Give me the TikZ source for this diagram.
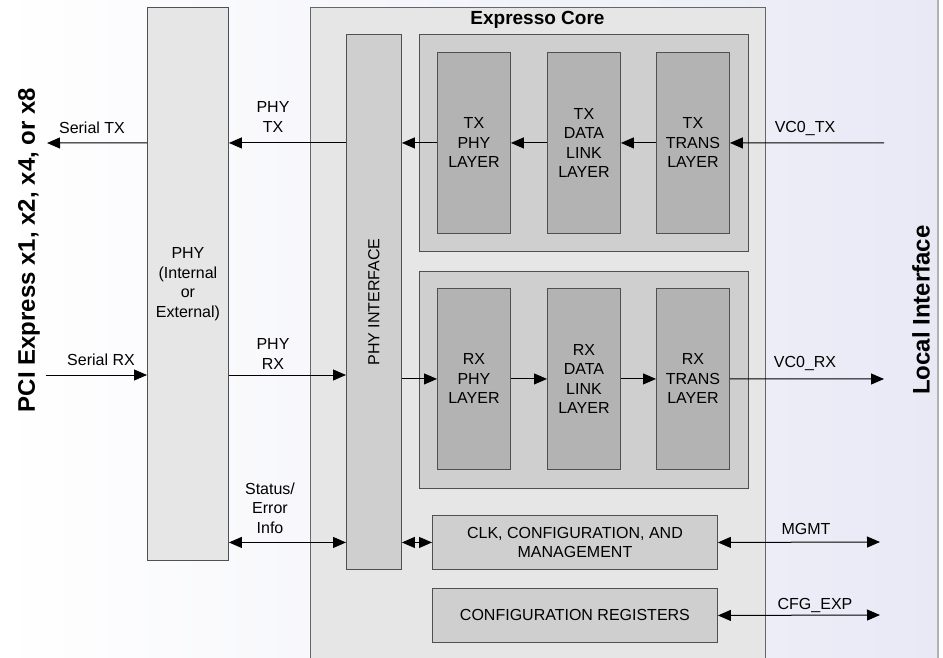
\documentclass[tikz,border=0pt]{standalone}
\usepackage{fontspec}
\setmainfont{Liberation Sans}
\usetikzlibrary{arrows.meta}

\definecolor{bgright}{RGB}{232,233,245}
\definecolor{corefill}{RGB}{230,230,230}
\definecolor{grpfill}{RGB}{207,207,207}
\definecolor{layerfill}{RGB}{179,179,179}
\definecolor{edgegrey}{RGB}{80,80,80}

\tikzset{
  box/.style={draw=edgegrey, line width=0.9pt, anchor=north west, inner sep=0pt, align=center, font=\fontsize{16}{19.5}\selectfont},
  phybox/.style={box, fill=corefill},
  corebox/.style={box, draw=black!60, fill=corefill},
  grpbox/.style={box, fill=grpfill},
  layerbox/.style={box, fill=layerfill, minimum width=73pt, minimum height=181pt},
  lbl/.style={inner sep=0.75pt, align=center, font=\fontsize{16}{19.5}\selectfont},
  biglbl/.style={inner sep=0.75pt, rotate=90, font=\fontsize{24}{28}\selectfont\bfseries},
  arr/.style={line width=1pt, -{Triangle[length=13pt,width=11pt]}},
  dblarr/.style={line width=1pt, {Triangle[length=13pt,width=11pt]}-{Triangle[length=13pt,width=11pt]}}
}

\begin{document}
\begin{tikzpicture}[x=1pt,y=1pt,yscale=-1,xscale=1]
\useasboundingbox (0,0) rectangle (943,658);

%Shape: Background
\fill [left color=white, right color=bgright] (0,0) rectangle (938,658);
\draw [black!30, line width=1.5pt] (938,0) -- (938,658);

%Shape: Rectangle [Expresso Core]
\node [corebox, minimum width=455pt, minimum height=660pt] (core) at (310,7) {};
% Text Node
\node [inner sep=0.75pt, font=\fontsize{19}{22}\selectfont\bfseries] (title) at (537.5,20) {Expresso Core};

%Shape: Rectangle [PHY]
\node [phybox, minimum width=81pt, minimum height=553pt] (phy) at (147,7) {PHY\\(Internal\\or\\External)};

%Shape: Rectangle [PHY INTERFACE]
\node [grpbox, minimum width=55pt, minimum height=535pt] (phyif) at (346,34) {};
% Text Node
\node [lbl, rotate=90] (phyiftxt) at (phyif.center) {PHY INTERFACE};

%Shape: Rectangle [TX group]
\node [grpbox, minimum width=329pt, minimum height=217pt] (txgrp) at (419,34) {};
\node [layerbox] (txphy) at (437,52) {TX\\PHY\\LAYER};
\node [layerbox] (txdl) at (547,52) {TX\\DATA\\LINK\\LAYER};
\node [layerbox] (txtrans) at (656,52) {TX\\TRANS\\LAYER};

%Shape: Rectangle [RX group]
\node [grpbox, minimum width=329pt, minimum height=217pt] (rxgrp) at (419,271) {};
\node [layerbox] (rxphy) at (437,288) {RX\\PHY\\LAYER};
\node [layerbox] (rxdl) at (547,288) {RX\\DATA\\LINK\\LAYER};
\node [layerbox] (rxtrans) at (656,288) {RX\\TRANS\\LAYER};

%Shape: Rectangle [CLK / CFG]
\node [grpbox, minimum width=285pt, minimum height=54pt] (clk) at (432,515) {CLK, CONFIGURATION, AND\\MANAGEMENT};
\node [grpbox, minimum width=285pt, minimum height=54pt] (cfg) at (432,588) {CONFIGURATION REGISTERS};

% free ends
\coordinate (sertx) at (47,143);
\coordinate (serrx) at (46,375);
\coordinate (vctx) at (884,143);
\coordinate (vcrx) at (884,379);
\coordinate (mgmt) at (880,542);
\coordinate (cfgexp) at (880,615);

% TX path
\draw [arr] (vctx) -- (txtrans.east);
\draw [arr] (txtrans.west) -- (txdl.east);
\draw [arr] (txdl.west) -- (txphy.east);
\draw [arr] (txphy.west) -- (phyif.east |- txphy.west);
\draw [arr] (phyif.west |- txphy.west) -- (phy.east |- txphy.west);
\draw [arr] (phy.west |- txphy.west) -- (sertx);

% RX path
\draw [arr] (serrx) -- (phy.west |- serrx);
\draw [arr] (phy.east |- serrx) -- (phyif.west |- serrx);
\draw [arr] (phyif.east |- rxphy.west) -- (rxphy.west);
\draw [arr] (rxphy.east) -- (rxdl.west);
\draw [arr] (rxdl.east) -- (rxtrans.west);
\draw [arr] (rxtrans.east) -- (vcrx);

% status and management
\draw [dblarr] (phy.east |- clk.west) -- (phyif.west |- clk.west);
\draw [dblarr] (phyif.east |- clk.west) -- (clk.west);
\draw [dblarr] (clk.east) -- (mgmt);
\draw [dblarr] (cfg.east) -- (cfgexp);

% Text Node
\node [lbl] (sertxlbl) at (92,128) {Serial TX};
% Text Node
\node [lbl] (serrxlbl) at (101,360) {Serial RX};
% Text Node
\node [lbl] (phytxlbl) at (273,117) {PHY\\TX};
% Text Node
\node [lbl] (phyrxlbl) at (273,354) {PHY\\RX};
% Text Node
\node [lbl] (statuslbl) at (270,508) {Status/\\Error\\Info};
% Text Node
\node [lbl] (vctxlbl) at (805,129) {VC0\_TX};
% Text Node
\node [lbl] (vcrxlbl) at (805,364) {VC0\_RX};
% Text Node
\node [lbl] (mgmtlbl) at (806,529) {MGMT};
% Text Node
\node [lbl] (cfgexplbl) at (815,605) {CFG\_EXP};
% Text Node
\node [biglbl] (pcie) at (29,250) {PCI Express x1, x2, x4, or x8};
% Text Node
\node [biglbl] (local) at (921,310) {Local Interface};

\end{tikzpicture}
\end{document}
